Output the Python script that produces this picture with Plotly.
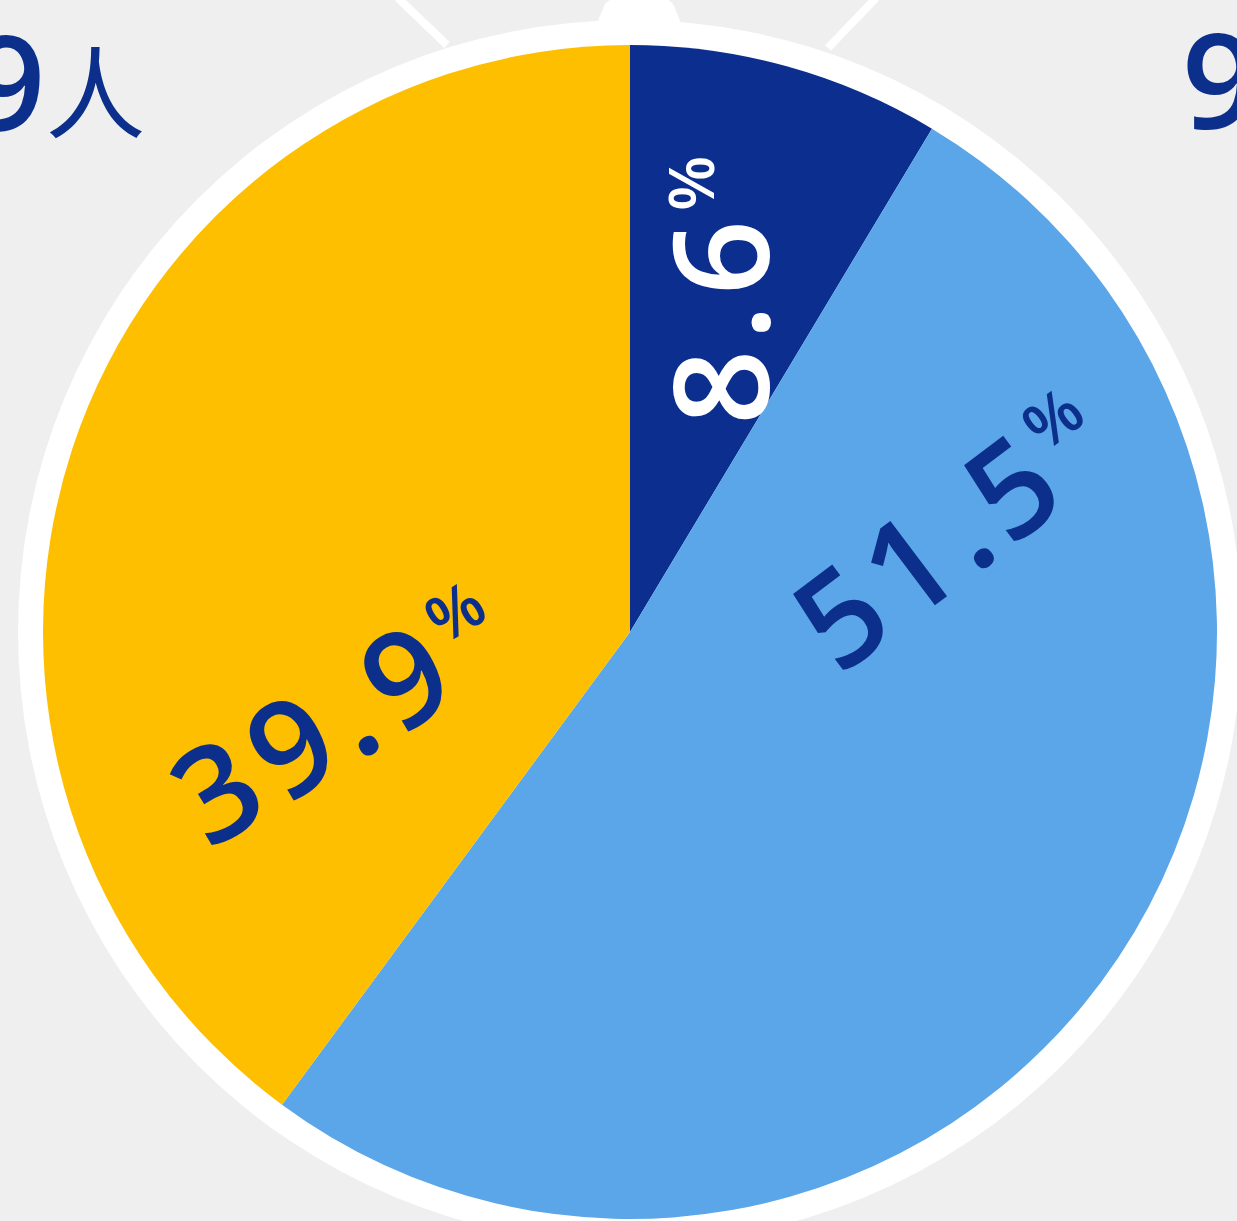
import plotly.graph_objects as go

# ---- data ----
categories = ["A", "B", "C"]
shares = [8.6, 51.5, 39.9]
label_text = ["8.6", "51.5", "39.9"]
slice_colors = ["#0b2e8f", "#5ba6e8", "#fdbf00"]
label_colors = ["#ffffff", "#0d2f8c", "#0d2f8c"]
label_angles = [-90, -37, -31]
cut_left_text = "9人"
cut_right_text = "9"

W, H = 1237, 1221
BG = "#efefef"
NAVY = "#0d2f8c"


def px(x):
    return x / W


def py(y):
    return 1 - y / H


cx, cy, R = 630, 632, 587
ring = 25

fig = go.Figure()
fig.add_trace(go.Pie(
    labels=categories,
    values=shares,
    sort=False,
    direction="clockwise",
    rotation=0,
    marker=dict(colors=slice_colors, line=dict(width=0)),
    textinfo="none",
    hoverinfo="skip",
    showlegend=False,
    domain=dict(x=[px(cx - R), px(cx + R)], y=[py(cy + R), py(cy - R)]),
))

shapes = [
    dict(type="circle", xref="paper", yref="paper", layer="below",
         x0=px(cx - R - ring), x1=px(cx + R + ring),
         y0=py(cy + R + ring), y1=py(cy - R - ring),
         fillcolor="#ffffff", line=dict(width=0)),
    dict(type="path", xref="paper", yref="paper", layer="below",
         path=(f"M {px(590)},{py(40)} L {px(604)},{py(6)} Q {px(608)},{py(-2)} {px(618)},{py(-2)} "
               f"L {px(660)},{py(-2)} Q {px(670)},{py(-2)} {px(674)},{py(6)} L {px(688)},{py(40)} Z"),
         fillcolor="#ffffff", line=dict(width=0)),
    dict(type="line", xref="paper", yref="paper", layer="below",
         x0=px(447), y0=py(45), x1=px(398), y1=py(-2),
         line=dict(color="#ffffff", width=8)),
    dict(type="line", xref="paper", yref="paper", layer="below",
         x0=px(828), y0=py(48), x1=px(876), y1=py(-2),
         line=dict(color="#ffffff", width=8)),
]

label_pos = [(718, 291), (950, 530), (338, 714)]
label_spacing = [9, 9, 11]
annotations = []
for txt, col, ang, (lx, ly), sp in zip(label_text, label_colors, label_angles, label_pos, label_spacing):
    annotations.append(dict(
        x=px(lx), y=py(ly), xref="paper", yref="paper",
        text=(f"<span style='letter-spacing:{sp}px'>" + txt + "</span>"
              "<sup><span style='font-size:64px'>%</span></sup>"),
        showarrow=False, textangle=ang,
        font=dict(family="Open Sans", size=132, color=col, weight=600),
        xanchor="center", yanchor="middle",
    ))

annotations.append(dict(
    x=px(147), y=py(80), xref="paper", yref="paper",
    text="9<span style='font-size:100px; font-family:\"Noto Sans CJK SC\"; font-weight:400'>人</span>",
    showarrow=False, xanchor="right", yanchor="middle",
    font=dict(family="Open Sans", size=132, color=NAVY, weight=600),
))
annotations.append(dict(
    x=px(1180), y=py(78), xref="paper", yref="paper",
    text=cut_right_text, showarrow=False, xanchor="left", yanchor="middle",
    font=dict(family="Open Sans", size=132, color=NAVY, weight=600),
))

fig.update_layout(
    width=W, height=H, autosize=False,
    margin=dict(l=0, r=0, t=0, b=0),
    paper_bgcolor=BG, plot_bgcolor=BG,
    shapes=shapes, annotations=annotations,
)

fig.write_html(
    "out.html",
    config={"displayModeBar": False},
    post_script="document.body.style.margin='0';document.body.style.background='#efefef';",
)
